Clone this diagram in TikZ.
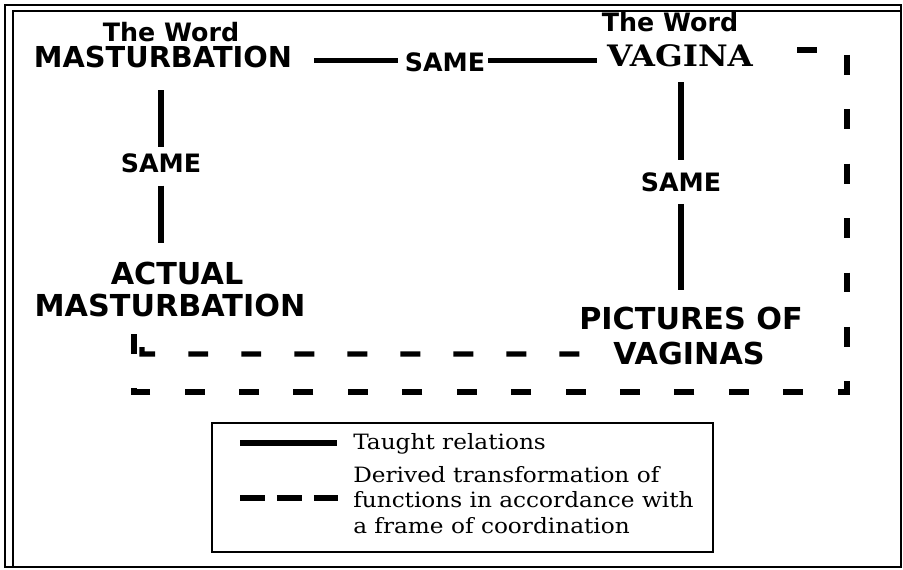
\documentclass[tikz,border=0pt]{standalone}
\usepackage{fontspec}
\setmainfont{DejaVu Sans}
\newfontfamily\legendfont{DejaVu Serif}[FakeStretch=1.1]

\begin{document}
\begin{tikzpicture}[x=0.025cm, y=-0.025cm,
    word/.style={inner sep=0pt, font=\bfseries\fontsize{18}{20}\selectfont},
    term/.style={inner sep=0pt, font=\bfseries\fontsize{#1}{#1}\selectfont},
    term/.default=21.5,
    same/.style={inner sep=0pt, font=\bfseries\fontsize{18}{20}\selectfont},
    taught/.style={line width=4pt},
    derived/.style={line width=3.6pt, dash pattern=on 14.2pt off 24.5pt},
    frame/.style={line width=2pt},
    legtext/.style={inner sep=0pt, align=left, font=\legendfont\fontsize{15}{18.1}\selectfont}
]
\useasboundingbox (0,0) rectangle (903,570);
\draw[frame] (5,5) rectangle (901,567);
\draw[frame] (13,567) -- (13,11) -- (901,11);

\node[word, anchor=base] (wordL) at (171,42) {The Word};
\node[term=20.5, anchor=base] (mastWord) at (163,68) {MASTURBATION};
\node[same, anchor=base] (sameTop) at (445,72) {SAME};
\node[word, anchor=base] (wordR) at (670,32) {The Word};
\node[inner sep=0pt, anchor=base, font=\legendfont\bfseries\fontsize{21}{24}\selectfont] (vagWord) at (680,67) {VAGINA};
\node[same, anchor=base] (sameL) at (161,173) {SAME};
\node[same, anchor=base] (sameR) at (681,192) {SAME};
\node[term, anchor=base] (actual) at (177,285) {ACTUAL};
\node[term, anchor=base] (mastAct) at (170,317) {MASTURBATION};
\node[term, anchor=base] (pics) at (691,330) {PICTURES OF};
\node[term, anchor=base] (vags) at (689,365) {VAGINAS};

\draw[taught, shorten <=15.5pt, shorten >=5pt] ([yshift=-2pt]mastWord.east) -- ([yshift=-2pt]mastWord.east -| sameTop.west);
\draw[taught, shorten <=2pt, shorten >=7pt] ([yshift=-2pt]sameTop.east |- mastWord.east) -- ([yshift=-2pt]vagWord.west |- mastWord.east);
\draw[taught, shorten <=15.5pt, shorten >=5pt] (sameL.north |- mastWord.south) -- (sameL.north);
\draw[taught, shorten <=8.5pt, shorten >=14pt] (sameL.south) -- (sameL.south |- actual.north);
\draw[taught, shorten <=10.5pt, shorten >=9pt] (sameR.north |- vagWord.south) -- (sameR.north);
\draw[taught, shorten <=8pt, shorten >=12pt] (sameR.south) -- (sameR.south |- pics.north);

% derived relations
\coordinate (cornerTR) at (847,50);
\coordinate (cornerBR) at (847,392);
\coordinate (cornerBL) at (134,392);
\coordinate (innerBL) at (142,354);
\draw[derived, dash phase=14.2pt, shorten >=11.4pt] ([xshift=7pt]vagWord.east |- cornerTR) -- (cornerTR) -- (cornerBR) -- (cornerBL) -- (cornerBL |- mastAct.south);
\draw[derived, dash pattern=on 14.2pt off 23.5pt, shorten >=11.4pt] ([xshift=-24pt]vags.west) -- (innerBL) -- (innerBL |- mastAct.south);

% legend
\node[draw, frame, inner sep=0pt, minimum width=12.525cm, minimum height=3.225cm] (legend) at (462.5,487.5) {};
\coordinate (solidA) at (240,443);
\coordinate (solidB) at (337,443);
\coordinate (dashA) at (240,498);
\coordinate (dashB) at (338,498);
\draw[taught] (solidA) -- (solidB);
\draw[line width=3.6pt, dash pattern=on 17.8pt off 8.5pt] (dashA) -- (dashB);
\node[legtext, anchor=base west] (taughtText) at (353,450) {Taught relations};
\node[legtext, anchor=north west] (derivedText) at (353,466) {Derived transformation of\\functions in accordance with\\a frame of coordination};
\end{tikzpicture}
\end{document}
